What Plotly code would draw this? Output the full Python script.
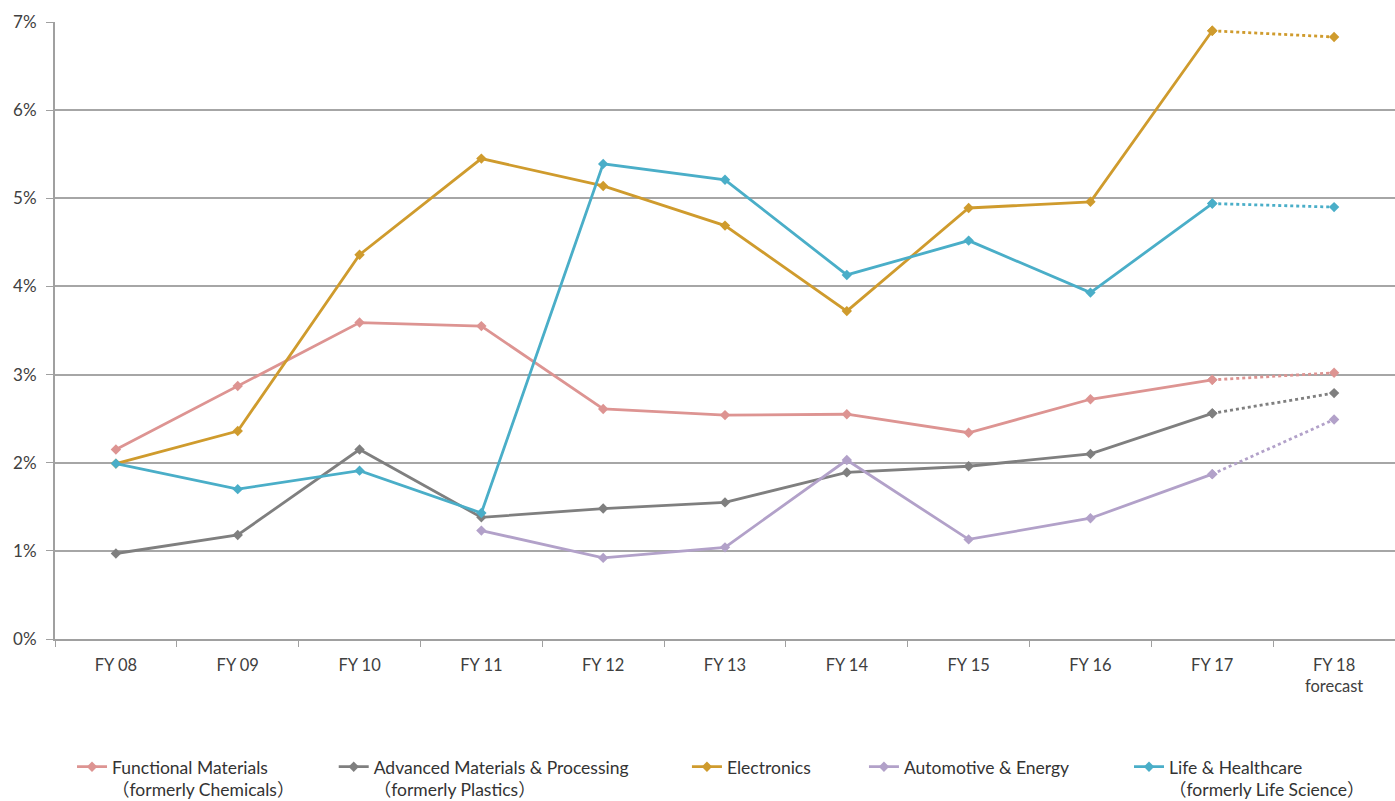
import plotly.graph_objects as go

categories = ["FY 08", "FY 09", "FY 10", "FY 11", "FY 12", "FY 13", "FY 14",
              "FY 15", "FY 16", "FY 17", "FY 18<br>forecast"]

functional = [2.15, 2.87, 3.59, 3.55, 2.61, 2.54, 2.55, 2.34, 2.72, 2.94, 3.02]
advanced = [0.97, 1.18, 2.15, 1.38, 1.48, 1.55, 1.89, 1.96, 2.10, 2.56, 2.79]
electronics = [1.99, 2.36, 4.36, 5.45, 5.14, 4.69, 3.72, 4.89, 4.96, 6.90, 6.83]
automotive = [None, None, None, 1.23, 0.92, 1.04, 2.03, 1.13, 1.37, 1.87, 2.49]
life = [1.99, 1.70, 1.91, 1.43, 5.39, 5.21, 4.13, 4.52, 3.93, 4.94, 4.90]

series_names = [
    "Functional Materials<br>（formerly Chemicals）",
    "Advanced Materials & Processing<br>（formerly Plastics）",
    "Electronics",
    "Automotive & Energy",
    "Life & Healthcare<br>（formerly Life Science）",
]
series_values = [functional, advanced, electronics, automotive, life]
colors = ["#dd9492", "#7f7f7f", "#cf9b2d", "#b2a1c9", "#4aaec8"]
legend_x = [0.0127, 0.208, 0.4716, 0.6037, 0.8015]

FONT = "Lato, 'Open Sans', 'Noto Sans CJK JP', sans-serif"

fig = go.Figure()
for i, (name, vals, col) in enumerate(zip(series_names, series_values, colors)):
    lg = "legend" if i == 0 else f"legend{i+1}"
    fig.add_trace(go.Scatter(
        x=categories[:-1], y=vals[:-1], name=name, mode="lines+markers",
        line=dict(color=col, width=2.8),
        marker=dict(symbol="diamond", size=8, color=col),
        legend=lg, connectgaps=False,
    ))
    fig.add_trace(go.Scatter(
        x=categories[-2:], y=vals[-2:], name=name, mode="lines+markers",
        line=dict(color=col, width=2.8, dash="dot"),
        marker=dict(symbol="diamond", size=8, color=col),
        showlegend=False, legend=lg,
    ))

layout_legends = {}
for i, lx in enumerate(legend_x):
    key = "legend" if i == 0 else f"legend{i+1}"
    layout_legends[key] = dict(
        x=lx, y=-0.178, xanchor="left", yanchor="top",
        orientation="h", bgcolor="rgba(0,0,0,0)",
        font=dict(family=FONT, size=17.5, color="#333333"),
        itemwidth=30, valign="top",
    )

fig.update_layout(
    width=1395, height=801,
    margin=dict(l=55, r=0, t=22, b=162, autoexpand=False),
    paper_bgcolor="white", plot_bgcolor="white",
    font=dict(family=FONT, size=15, color="#404040"),
    xaxis=dict(
        type="category", tickson="boundaries", ticks="outside", ticklen=6,
        tickcolor="#a0a0a0", showline=True, linecolor="#a0a0a0", linewidth=2,
        showgrid=False, tickfont=dict(size=16.5, color="#404040"),
        range=[-0.5, 10.5], automargin=False, ticklabelstandoff=10,
    ),
    yaxis=dict(
        range=[0, 7], dtick=1, ticksuffix="%", showgrid=True,
        gridcolor="#a6a6a6", gridwidth=1.5, ticks="outside", ticklen=7,
        tickcolor="#a0a0a0", showline=True, linecolor="#a0a0a0", linewidth=2,
        zeroline=False, tickfont=dict(size=17, color="#404040"),
        automargin=False, ticklabelstandoff=6,
    ),
    showlegend=True,
    **layout_legends,
)

fig.write_html("out.html",
               config={"displayModeBar": False},
               post_script="document.body.style.margin='0';document.body.style.overflow='hidden';")
